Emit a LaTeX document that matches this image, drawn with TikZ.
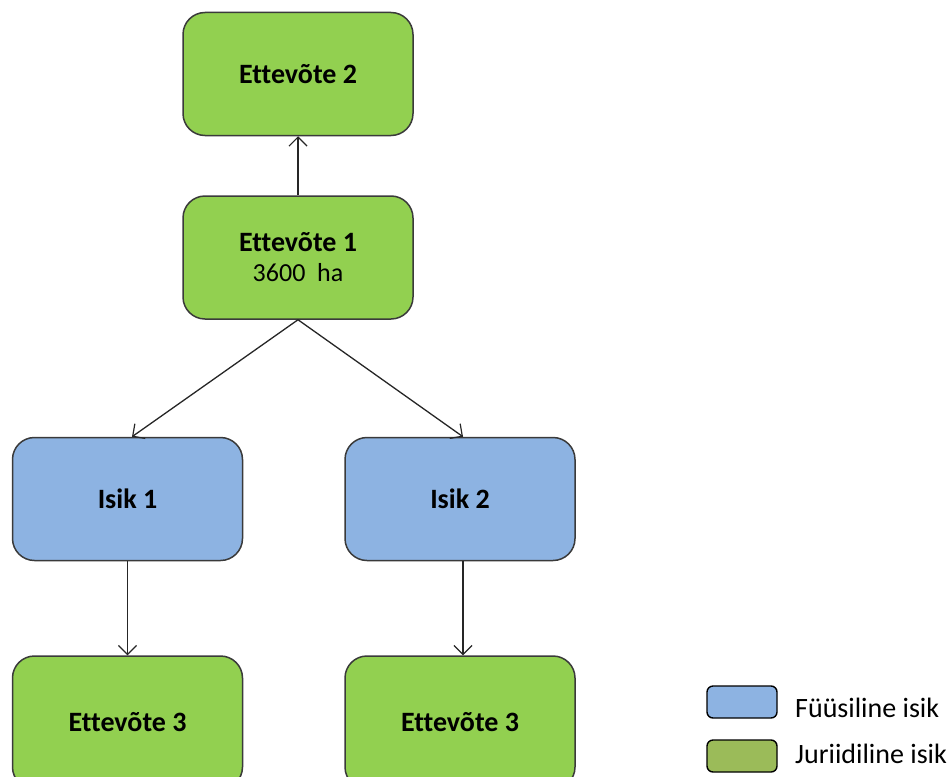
\documentclass[tikz,border=0pt]{standalone}
\usepackage{fontspec}
\setmainfont[Ligatures=NoCommon]{Carlito}
\usetikzlibrary{arrows.meta}
\definecolor{gfill}{HTML}{92D050}
\definecolor{bfill}{HTML}{8DB3E2}
\definecolor{lgreen}{HTML}{9BBB59}
\definecolor{lblue}{HTML}{8DB3E2}
\definecolor{edge}{HTML}{3A3A3A}
\tikzset{
  box/.style={draw=edge, line width=1.5pt, rounded corners=22pt, minimum width=230pt, minimum height=123pt, align=center, inner sep=0pt, font=\fontsize{28}{32}\selectfont\bfseries},
  gbox/.style={box, fill=gfill},
  bbox/.style={box, fill=bfill},
  lbox/.style={draw=black, line width=1.4pt, rounded corners=6pt, minimum width=70pt, minimum height=32pt, inner sep=0pt},
  ltext/.style={anchor=west, inner sep=0pt, font=\fontsize{28}{32}\selectfont},
  arr/.style={draw=black!85, line width=1.3pt, -{Straight Barb[length=9pt,width=18pt,line width=1.2pt]}}
}
\begin{document}
\begin{tikzpicture}[x=1pt,y=-1pt]
\useasboundingbox (0,0) rectangle (949,776);
\node[gbox] (e2) at (298,74) {Ettevõte 2};
\node[gbox] (e1) at (298,257.5) {Ettevõte 1\\[-2pt]{\mdseries\fontsize{26}{30}\selectfont 3600\ \ ha}};
\node[bbox] (i1) at (127.5,499) {Isik 1};
\node[bbox] (i2) at (460,499) {Isik 2};
\node[gbox, minimum height=133pt] (e3a) at (127.5,722.5) {\raisebox{-3pt}{Ettevõte 3}};
\node[gbox, minimum height=133pt] (e3b) at (460,722.5) {\raisebox{1pt}{Ettevõte 3}};
\node[lbox, fill=lblue] (lb) at (742,702) {};
\node[lbox, fill=lgreen] (lg) at (742,756) {};
\node[ltext] (lbt) at (795,708) {Füüsiline isik};
\node[ltext] (lgt) at (795,754) {Juriidiline isik};
\coordinate (e1b) at (e1.south);
\draw[arr] (e1.north) -- (e2.south);
\draw[arr] (e1b) -- (i1.north -| 132,0);
\draw[arr] (e1b) -- (i2.north -| 463,0);
\draw[arr] (i1.south) -- (e3a.north);
\draw[arr] (i2.south -| 463,0) -- (e3b.north -| 463,0);
\end{tikzpicture}
\end{document}
